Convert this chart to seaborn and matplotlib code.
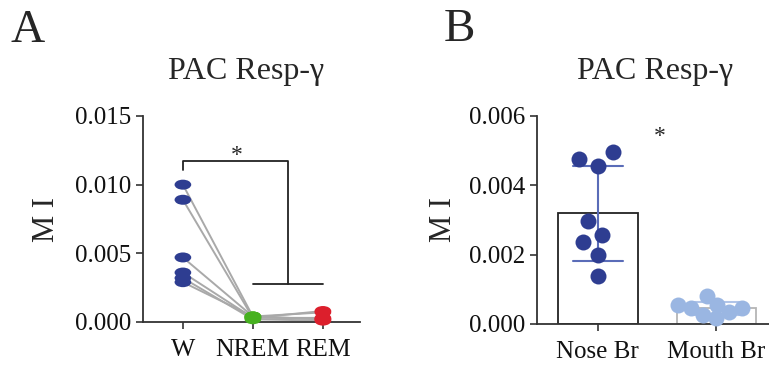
import numpy as np
import pandas as pd
import matplotlib
matplotlib.use("Agg")
import matplotlib.pyplot as plt
from matplotlib.path import Path
from matplotlib.ticker import FormatStrFormatter
import seaborn as sns

# ---------------- data ----------------
states = ["W", "NREM", "REM"]
subjects = ["s1", "s2", "s3", "s4", "s5", "s6"]
mi_w = [0.0100, 0.0089, 0.0047, 0.0036, 0.0032, 0.0029]
mi_nrem = [0.0004, 0.0003, 0.0004, 0.0003, 0.0002, 0.0004]
mi_rem = [0.0007, 0.0008, 0.0002, 0.0003, 0.0001, 0.0002]

groups = ["Nose Br", "Mouth Br"]
mi_nose = [0.00475, 0.00495, 0.00456, 0.00298, 0.00257, 0.00237, 0.00199, 0.00138]
mi_mouth = [0.00081, 0.00055, 0.00055, 0.00045, 0.00046, 0.00035, 0.00026, 0.00017]

yticks_a = [0.000, 0.005, 0.010, 0.015]
yticks_b = [0.000, 0.002, 0.004, 0.006]
title = "PAC Resp-γ"
ylabel = "M I"

# ---------------- style ----------------
sns.set_style("ticks")
plt.rcParams["font.family"] = ["Liberation Serif", "DejaVu Serif"]

state_colors = {"W": "#2e3d91", "NREM": "#47b120", "REM": "#dc1f2c"}
group_colors = {"Nose Br": "#2e3d91", "Mouth Br": "#9ab6e2"}
err_colors = ["#5a6cb8", "#b0c4e8"]
edge_colors = ["#222222", "#b5b5b5"]
spine_col = "#333333"

ell = Path.unit_circle().transformed(matplotlib.transforms.Affine2D().scale(1.0, 0.6))

fig = plt.figure(figsize=(7.69, 3.65), dpi=100)
W, H = 769, 365
axA = fig.add_axes([143 / W, (H - 322) / H, (360 - 143) / W, (322 - 116) / H])
axB = fig.add_axes([537 / W, (H - 324) / H, (790 - 537) / W, (324 - 116) / H])

# ---------------- Panel A ----------------
dfA = pd.DataFrame({
    "subject": subjects * 3,
    "state": np.repeat(states, len(subjects)),
    "value": mi_w + mi_nrem + mi_rem,
})
dfA["state"] = pd.Categorical(dfA["state"], categories=states, ordered=True)

sns.pointplot(data=dfA, x="state", y="value", hue="subject", order=states,
              palette=["#a9a9a9"] * len(subjects), markers="", linestyles="-",
              errorbar=None, legend=False, linewidth=1.4, ax=axA)
for ln in axA.lines:
    ln.set_zorder(2)
    ln.set_clip_on(False)
sns.stripplot(data=dfA, x="state", y="value", hue="state", order=states,
              palette=state_colors, jitter=False, marker=ell, size=12,
              linewidth=0, legend=False, ax=axA, zorder=3)
for c in axA.collections:
    c.set_clip_on(False)

axA.set_xlim(-0.57, 2.53)
axA.set_ylim(0, 0.015)
axA.set_yticks(yticks_a)
axA.yaxis.set_major_formatter(FormatStrFormatter("%.3f"))
axA.set_xlabel("")
axA.set_ylabel(ylabel, fontsize=22, labelpad=10)

# significance bracket
k = dict(color="#222222", lw=1.3, clip_on=False, zorder=4)
axA.plot([0, 0, 1.5, 1.5], [0.0111, 0.0117, 0.0117, 0.00277], **k)
axA.plot([1, 2], [0.00277, 0.00277], **k)
axA.text(0.77, 0.0121, "*", ha="center", va="center", fontsize=17)

# ---------------- Panel B ----------------
dfB = pd.DataFrame({
    "group": np.repeat(groups, [len(mi_nose), len(mi_mouth)]),
    "value": mi_nose + mi_mouth,
})
sns.barplot(data=dfB, x="group", y="value", order=groups, errorbar="sd",
            capsize=0.42, width=0.67, color="white", linewidth=1.3,
            err_kws={"linewidth": 1.5}, ax=axB, zorder=1)
for p, ec in zip(axB.patches, edge_colors):
    p.set_edgecolor(ec)
    p.set_facecolor("white")
for ln, ecol in zip(axB.lines, err_colors):
    ln.set_color(ecol)
    ln.set_zorder(2)
swarm_sizes = {"Nose Br": 14.0, "Mouth Br": 9.5}
for g in groups:
    sns.swarmplot(data=dfB[dfB["group"] == g], x="group", y="value", order=groups,
                  color=group_colors[g], size=swarm_sizes[g], linewidth=0,
                  ax=axB, zorder=3)

axB.set_xlim(-0.513, 1.62)
axB.set_ylim(0, 0.006)
axB.set_yticks(yticks_b)
axB.yaxis.set_major_formatter(FormatStrFormatter("%.3f"))
axB.set_xlabel("")
axB.set_ylabel(ylabel, fontsize=22, labelpad=8)
axB.text(0.52, 0.0054, "*", ha="center", va="center", fontsize=17)

for ax in (axA, axB):
    sns.despine(ax=ax)
    for s in ("left", "bottom"):
        ax.spines[s].set_color(spine_col)
        ax.spines[s].set_linewidth(1.3)
    ax.tick_params(axis="both", colors=spine_col, width=1.2, length=5,
                   labelsize=18, labelcolor="#111111")
axA.tick_params(axis="x", labelsize=18.5, pad=7)
axB.tick_params(axis="x", labelsize=18, pad=7)

fig.text(246 / W, 1 - 72 / H, title, ha="center", va="center", fontsize=23)
fig.text(655 / W, 1 - 72 / H, title, ha="center", va="center", fontsize=23)
fig.text(28 / W, 1 - 31 / H, "A", fontsize=34, ha="center", va="center")
fig.text(459 / W, 1 - 30 / H, "B", fontsize=34, ha="center", va="center")

# compute swarm layout once, then freeze it and enlarge the dots (overlapping, as in the original)
fig.canvas.draw()
for c in axB.collections:
    if "draw" in c.__dict__:
        del c.draw
    c.set_clip_on(False)
    c.set_sizes([11.5 ** 2])

fig.savefig("out.png", dpi=100)
